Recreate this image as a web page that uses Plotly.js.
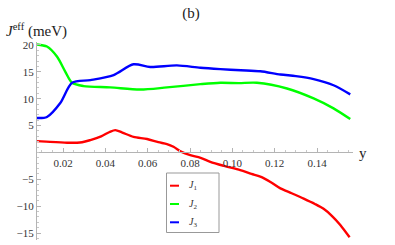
<!DOCTYPE html>
<html>
<head>
<meta charset="utf-8">
<script src="https://cdn.plot.ly/plotly-3.0.1.min.js"></script>
<style>html,body{margin:0;padding:0;background:#fff;}#chart{width:395px;height:245px;}</style>
</head>
<body>
<div id="chart"></div>
<script>
// ---- data ----
const seriesNames = ["J<sub>1</sub>", "J<sub>2</sub>", "J<sub>3</sub>"];
const seriesColors = ["#ff0000", "#00ff00", "#0000ff"];

const x1 = [0.0077, 0.012, 0.0219, 0.0290, 0.0329, 0.0380, 0.0420, 0.0447, 0.0480, 0.0533, 0.0597, 0.0650, 0.0691, 0.0722, 0.0760, 0.0801, 0.0850, 0.0896, 0.0960, 0.1037, 0.1090, 0.1132, 0.1180, 0.1227, 0.1280, 0.1337, 0.1390, 0.1431, 0.1470, 0.1510, 0.1554];
const j1 = [2.1, 2.0, 1.8, 1.9, 2.3, 3.0, 3.8, 4.15, 3.7, 2.9, 2.5, 1.9, 1.55, 1.05, 0.1, -0.5, -1.0, -1.75, -2.5, -3.3, -4.0, -4.5, -5.5, -6.7, -7.6, -8.6, -9.6, -10.5, -11.8, -13.5, -15.8];

const x2 = [0.0077, 0.0124, 0.0172, 0.0211, 0.0243, 0.0297, 0.0423, 0.0565, 0.0691, 0.0849, 0.0943, 0.1030, 0.1116, 0.1258, 0.1384, 0.1478, 0.1557];
const j2 = [20.1, 19.7, 17.8, 15.0, 12.96, 12.35, 12.1, 11.7, 12.1, 12.7, 12.96, 12.9, 12.96, 11.9, 10.05, 8.2, 6.2];

const x3 = [0.0077, 0.0124, 0.0187, 0.0243, 0.0329, 0.0439, 0.0533, 0.0612, 0.0738, 0.0849, 0.0943, 0.1040, 0.1132, 0.1227, 0.1300, 0.1384, 0.1478, 0.1557];
const j3 = [6.4, 6.6, 9.2, 12.96, 13.46, 14.4, 16.4, 15.9, 16.2, 15.75, 15.5, 15.3, 15.1, 14.5, 14.2, 13.65, 12.5, 10.8];

const xTickVals = [0.02, 0.04, 0.06, 0.08, 0.10, 0.12, 0.14];
const xTickText = ["0.02", "0.04", "0.06", "0.08", "0.10", "0.12", "0.14"];
const yTickVals = [-15, -10, -5, 5, 10, 15, 20];
const yTickText = ["\u221215", "\u221210", "\u22125", "5", "10", "15", "20"];

// ---- layout geometry ----
const W = 395, H = 245;
const M = {l: 37, r: 42, t: 42, b: 5};
const PW = W - M.l - M.r, PH = H - M.t - M.b;
const xRange = [0.0077, 0.157];
const yRange = [-16.3, 20.55];
const px = v => (v - M.l) / PW;           // pixel x -> paper
const py = v => (H - M.b - v) / PH;       // pixel y -> paper

const serif = '"Liberation Serif", "Times New Roman", Times, "DejaVu Serif", serif';
const xs = [x1, x2, x3], ys = [j1, j2, j3];

const traces = xs.map((xx, i) => ({
  x: xx, y: ys[i], type: "scatter", mode: "lines", name: seriesNames[i],
  line: {color: seriesColors[i], width: 2.4, shape: "spline", smoothing: 0.8},
  showlegend: false, hoverinfo: "skip"
}));

// manual legend (Mathematica style framed box)
const legShapes = [{type: "rect", xref: "paper", yref: "paper",
  x0: px(166.5), x1: px(219), y0: py(232.5), y1: py(173),
  line: {color: "#999", width: 1}, fillcolor: "rgba(255,255,255,1)"}];
const legAnn = [];
const legY = [185.7, 204, 222.3];
seriesNames.forEach((n, i) => {
  legShapes.push({type: "line", xref: "paper", yref: "paper",
    x0: px(170), x1: px(179), y0: py(legY[i]), y1: py(legY[i]),
    line: {color: seriesColors[i], width: 2}});
  legAnn.push({xref: "paper", yref: "paper", x: px(187), y: py(legY[i]),
    xanchor: "left", yanchor: "middle", showarrow: false,
    text: "<i>J</i><sub>" + (i + 1) + "</sub>",
    font: {family: serif, size: 10, color: "#333"}});
});

const layout = {
  width: W, height: H, margin: M,
  paper_bgcolor: "#fff", plot_bgcolor: "#fff",
  showlegend: false,
  font: {family: serif},
  title: {text: "(b)", x: 192.5 / W, xanchor: "center", xref: "paper",
          y: 1 - 12.5 / H, yanchor: "middle", font: {family: serif, size: 15, color: "#222"}},
  xaxis: {range: xRange, anchor: "free", position: (0 - yRange[0]) / (yRange[1] - yRange[0]),
    showgrid: false, zeroline: false, showline: true, linecolor: "#b4b4b4", linewidth: 1,
    tickmode: "array", tickvals: xTickVals, ticktext: xTickText,
    ticks: "inside", ticklen: 4, tickcolor: "#b4b4b4", tickwidth: 1,
    minor: {dtick: 0.005, tick0: 0, ticks: "inside", ticklen: 2, tickcolor: "#c8c8c8"},
    tickfont: {family: serif, size: 11, color: "#333"}, fixedrange: true},
  yaxis: {range: yRange, showgrid: false, zeroline: false, showline: true,
    linecolor: "#b4b4b4", linewidth: 1,
    tickmode: "array", tickvals: yTickVals, ticktext: yTickText,
    ticks: "inside", ticklen: 4, tickcolor: "#b4b4b4", tickwidth: 1,
    minor: {dtick: 1, tick0: 0, ticks: "inside", ticklen: 2, tickcolor: "#c8c8c8"},
    tickfont: {family: serif, size: 11, color: "#333"}, ticklabelstandoff: 0, fixedrange: true},
  shapes: legShapes,
  annotations: legAnn.concat([
    {xref: "paper", yref: "paper", x: px(4), y: py(31), xanchor: "left", yanchor: "middle",
     showarrow: false, text: "<i>J</i><sup>eff</sup> (meV)",
     font: {family: serif, size: 15, color: "#222"}},
    {xref: "paper", yref: "paper", x: px(357), y: py(153), xanchor: "left", yanchor: "middle",
     showarrow: false, text: "y", font: {family: serif, size: 15, color: "#222"}}
  ])
};

Plotly.newPlot("chart", traces, layout, {displayModeBar: false, staticPlot: true});
</script>
</body>
</html>
